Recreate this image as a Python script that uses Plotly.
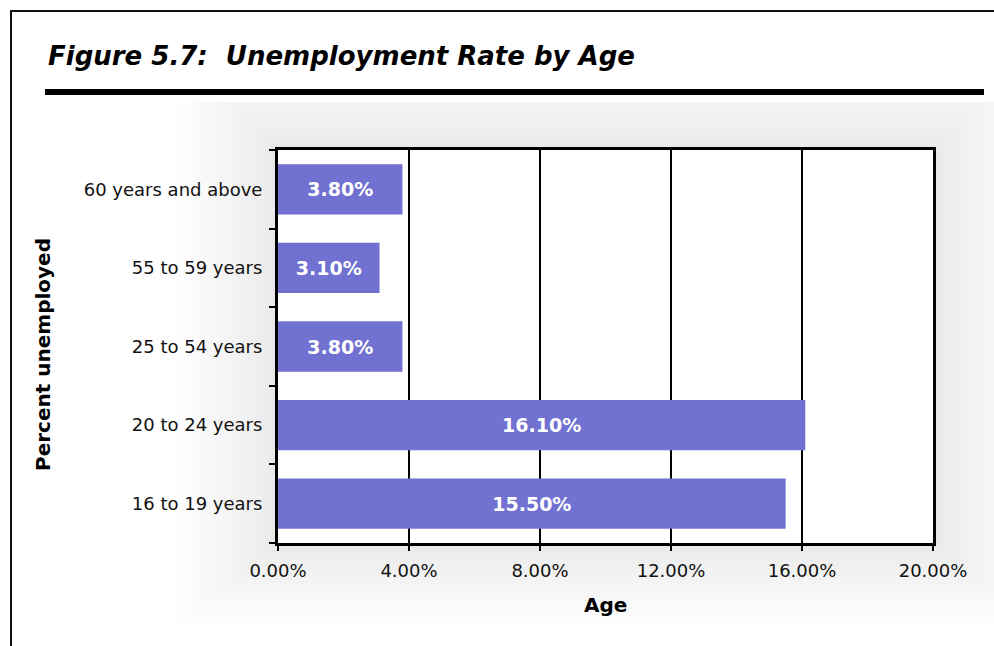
import plotly.graph_objects as go

# ---- data ----
categories = ["16 to 19 years", "20 to 24 years", "25 to 54 years", "55 to 59 years", "60 years and above"]
rates = [15.5, 16.1, 3.8, 3.1, 3.8]
bar_labels = ["15.50%", "16.10%", "3.80%", "3.10%", "3.80%"]
x_tickvals = [0, 4, 8, 12, 16, 20]
x_ticktext = ["0.00%", "4.00%", "8.00%", "12.00%", "16.00%", "20.00%"]

W, H = 994, 646
L, R, T, B = 278, 61, 150, 103
PW, PH = W - L - R, H - T - B

def px(x):
    return (x - L) / PW

def py(y):
    return (H - B - y) / PH

fig = go.Figure()
fig.add_trace(go.Bar(
    y=categories, x=rates, orientation="h",
    marker=dict(color="#7171D1", line=dict(width=0)),
    width=0.64,
    text=bar_labels, textposition="inside", insidetextanchor="middle",
    textfont=dict(family="DejaVu Sans", size=19, color="white", weight="bold"),
    constraintext="none",
    hoverinfo="skip",
))

shapes = []
# soft shadow behind plot area
for i, d in enumerate(range(0, 100, 5)):
    shapes.append(dict(
        type="rect", xref="paper", yref="paper", layer="below",
        x0=px(max(175, 272 - d)), x1=px(min(994, 940 + d)),
        y0=py(min(640, 548 + 0.8 * d)), y1=py(max(102, 146 - d)),
        fillcolor="rgba(0,0,0,%.4f)" % (0.0022 + 0.0002 * (20 - i)),
        line=dict(width=0),
    ))
# white plot area over the shadow
shapes.append(dict(type="rect", xref="paper", yref="paper", layer="below",
                   x0=0, x1=1, y0=0, y1=1, fillcolor="white", line=dict(width=0)))
# outer frame
shapes.append(dict(type="line", xref="paper", yref="paper", x0=px(10), x1=px(994), y0=py(11), y1=py(11),
                   line=dict(color="#111111", width=2)))
shapes.append(dict(type="line", xref="paper", yref="paper", x0=px(11), x1=px(11), y0=py(10), y1=py(646),
                   line=dict(color="#111111", width=2)))
# title underline
shapes.append(dict(type="rect", xref="paper", yref="paper", x0=px(45), x1=px(984), y0=py(95), y1=py(89),
                   fillcolor="black", line=dict(width=0)))

annotations = [
    dict(text="Figure 5.7:  Unemployment Rate by Age", xref="paper", yref="paper",
         x=px(46), y=py(56), xanchor="left", yanchor="middle", showarrow=False,
         font=dict(family="DejaVu Sans", size=26, color="black", weight="bold", style="italic")),
    dict(text="Percent unemployed", xref="paper", yref="paper",
         x=px(43), y=py(355), xanchor="center", yanchor="middle", textangle=-90, showarrow=False,
         font=dict(family="DejaVu Sans", size=20, color="black", weight="bold")),
    dict(text="Age", xref="paper", yref="paper",
         x=px(605), y=py(605), xanchor="center", yanchor="middle", showarrow=False,
         font=dict(family="DejaVu Sans", size=20, color="black", weight="bold")),
]

fig.update_layout(
    width=W, height=H,
    margin=dict(l=L, r=R, t=T, b=B, pad=0),
    paper_bgcolor="white", plot_bgcolor="white",
    showlegend=False,
    shapes=shapes, annotations=annotations,
    xaxis=dict(range=[0, 20], tickvals=x_tickvals, ticktext=x_ticktext,
               showgrid=True, gridcolor="black", gridwidth=1.5,
               showline=True, linecolor="black", linewidth=3, mirror=True,
               ticks="outside", ticklen=5, tickwidth=2, tickcolor="black",
               zeroline=False, fixedrange=True, ticklabelstandoff=4,
               tickfont=dict(family="DejaVu Sans", size=18, color="#111111")),
    yaxis=dict(categoryorder="array", categoryarray=categories,
               showgrid=False, showline=True, linecolor="black", linewidth=3, mirror=True,
               ticks="outside", tickson="boundaries", ticklen=6, tickwidth=2, tickcolor="black",
               zeroline=False, fixedrange=True, ticklabelstandoff=9,
               tickfont=dict(family="DejaVu Sans", size=18, color="#111111")),
)

fig.write_html("out.html", config={"displayModeBar": False},
               post_script="document.body.style.margin='0';")
